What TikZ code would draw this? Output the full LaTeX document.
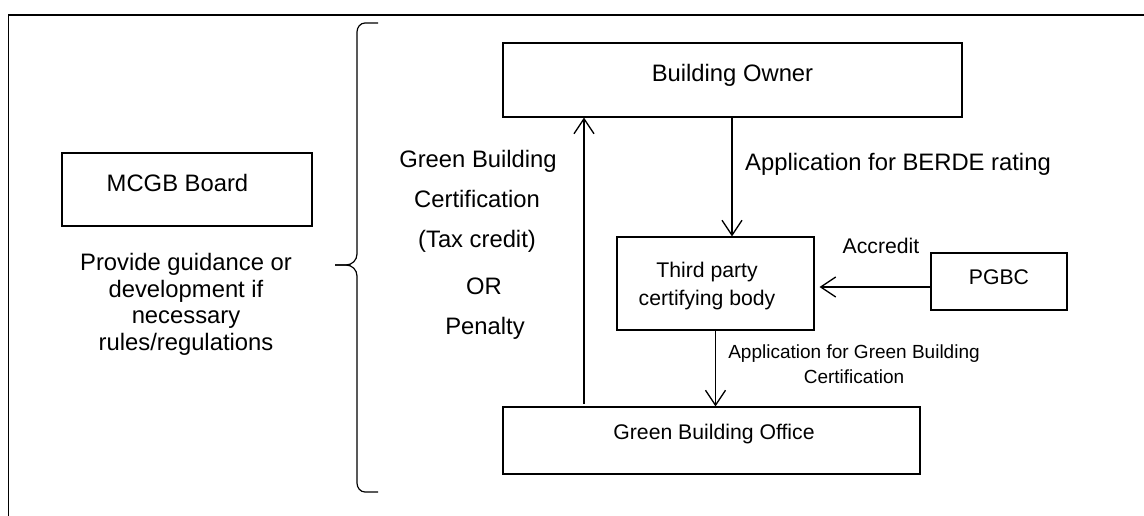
\documentclass[tikz,border=0pt]{standalone}
\usepackage{fontspec}
\setmainfont{Liberation Sans}
\usetikzlibrary{arrows.meta}
\begin{document}
\begin{tikzpicture}[x=1pt,y=-1pt,
  box/.style={draw=black, line width=1.2pt, inner sep=0pt},
  big/.style={font=\fontsize{23.8}{26.7}\selectfont, anchor=base, inner sep=0pt},
  mid/.style={font=\fontsize{21.2}{24}\selectfont, anchor=base, inner sep=0pt},
  small/.style={font=\fontsize{19}{22}\selectfont, anchor=base, inner sep=0pt},
  arr/.style={line width=1.3pt, -{Straight Barb[length=15pt,width=20pt,line width=1.3pt]}},
]
\useasboundingbox (0,0) rectangle (1144,516);
\fill[white] (0,0) rectangle (1144,516);

% outer frame (left and top edges)
\draw[line width=1.5pt] (8.5,516) -- (8.5,15) -- (1144,15);

% boxes
\node[box, minimum width=250pt, minimum height=73pt] (mcgb)  at (187,189.5) {};
\node[box, minimum width=459pt, minimum height=74pt] (owner) at (732.5,80) {};
\node[box, minimum width=197pt, minimum height=93pt] (third) at (715.5,283.5) {};
\node[box, minimum width=136pt, minimum height=57pt] (pgbc)  at (999,281.5) {};
\node[box, minimum width=417pt, minimum height=67pt] (gbo)   at (711.5,440.5) {};

% box texts
\node[big] (tmcgb)  at (177.5,191.5) {MCGB Board};
\node[big] (towner) at (732.5,81.5) {Building Owner};
\node[mid] (tthird1) at (707,277.6) {Third party};
\node[mid] (tthird2) at (707,305.6) {certifying body};
\node[mid] (tpgbc) at (999,284.6) {PGBC};
\node[mid] (tgbo) at (714,439.6) {Green Building Office};

% board remark
\node[big] (g1) at (186,270.5) {Provide guidance or};
\node[big] (g2) at (186,297) {development if};
\node[big] (g3) at (186,323.5) {necessary};
\node[big] (g4) at (186,350) {rules/regulations};

% brace grouping the process
\draw[line width=1.2pt]
  (378,23) -- (365,23) to[out=180,in=90] (357,32) -- (357,254)
  to[out=-90,in=0] (346,265) -- (335,265);
\draw[line width=1.2pt]
  (335,265) -- (346,265) to[out=0,in=90] (357,276) -- (357,483)
  to[out=-90,in=180] (365,492) -- (378,492);

% feedback labels
\node[big] (l1) at (478,167.5) {Green Building};
\node[big] (l2) at (477,207.5) {Certification};
\node[big] (l3) at (477,247.5) {(Tax credit)};
\node[big] (l4) at (484,294.5) {OR};
\node[big] (l5) at (485,334.5) {Penalty};

% connectors
\coordinate (upfoot) at (584,404);
\draw[arr] (upfoot) -- (upfoot |- owner.south);
\draw[arr] ([xshift=-0.5pt]owner.south) -- ([xshift=-0.5pt]owner.south |- third.north);
\draw[arr] (third.south) -- (third.south |- gbo.north);
\draw[arr, shorten >=5pt] ([yshift=-5.5pt]pgbc.west) -- ([yshift=-5.5pt]pgbc.west -| third.east);

% connector labels
\node[big] (lberde) at (898,170.5) {Application for BERDE rating};
\node[mid] (lacc) at (881,253.6) {Accredit};
\node[small] (lapp1) at (854,358.8) {Application for Green Building};
\node[small] (lapp2) at (854,383.8) {Certification};
\end{tikzpicture}
\end{document}
